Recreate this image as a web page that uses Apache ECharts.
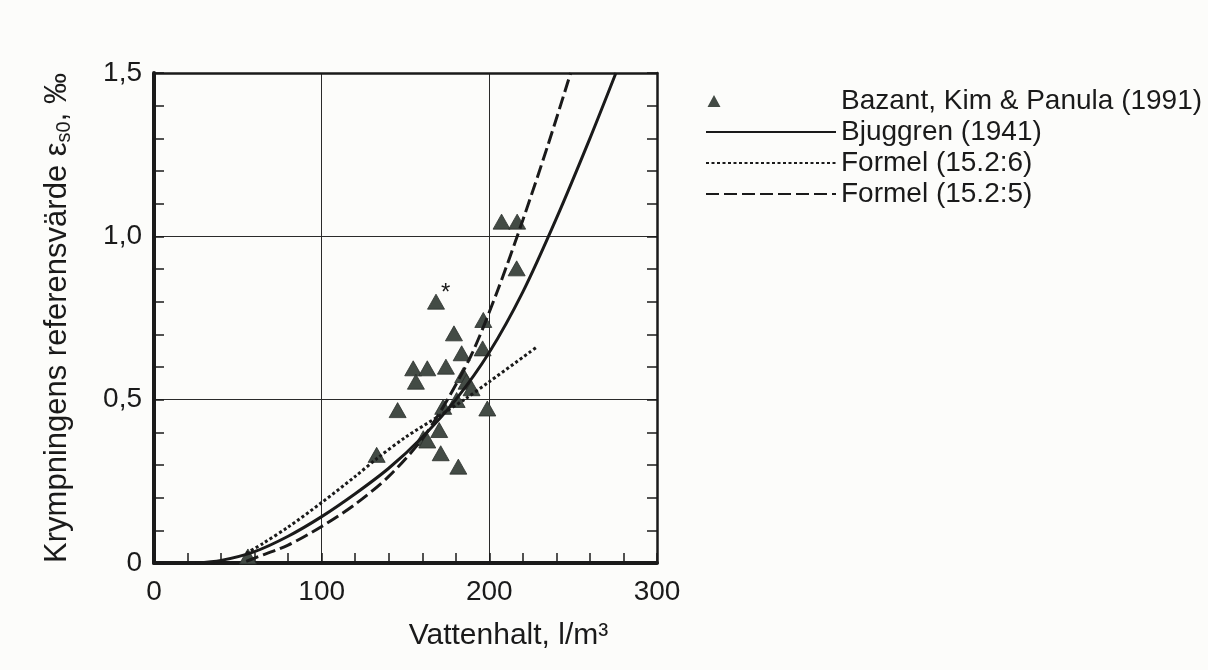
<!DOCTYPE html>
<html>
<head>
<meta charset="utf-8">
<script src="https://cdn.jsdelivr.net/npm/echarts@6/dist/echarts.min.js"></script>
<style>
html,body{margin:0;padding:0;background:#fcfcfa;}
#chart{width:1208px;height:670px;}
</style>
</head>
<body>
<div id="chart"></div>
<script>
// ---- data ----
const xTicks = [0, 100, 200, 300];
const yTicks = [0, 0.5, 1.0, 1.5];

const bazantX = [56, 132.8, 145.3, 154.6, 156.2, 160.6, 163, 163, 168.2, 170.1, 171, 172.5, 174.1, 178.9, 180.5, 181.5, 183.5, 184.4, 186.4, 189.4, 196, 196.4, 198.8, 207.3, 216.6, 216.3];
const bazantY = [0.02, 0.331, 0.468, 0.596, 0.555, 0.382, 0.375, 0.596, 0.80, 0.407, 0.336, 0.478, 0.601, 0.703, 0.499, 0.295, 0.642, 0.575, 0.555, 0.535, 0.657, 0.744, 0.473, 1.045, 1.045, 0.902];
const asteriskIndex = 8;

const bjuggrenX = [25, 40, 60, 80, 100, 120, 140, 160, 180, 200, 220, 240, 260, 275.5];
const bjuggrenY = [0, 0.008, 0.035, 0.082, 0.142, 0.212, 0.29, 0.385, 0.5, 0.645, 0.83, 1.055, 1.3, 1.5];

const formel6X = [55, 65, 80, 100, 120, 133, 150, 170, 185, 200, 228];
const formel6Y = [0.03, 0.06, 0.11, 0.185, 0.265, 0.32, 0.385, 0.45, 0.5, 0.555, 0.66];

const formel5X = [55, 60, 80, 100, 120, 140, 160, 175, 190, 205, 220, 235, 248.5];
const formel5Y = [0.005, 0.015, 0.055, 0.112, 0.18, 0.265, 0.38, 0.5, 0.645, 0.835, 1.05, 1.28, 1.5];

const names = ['Bazant, Kim & Panula (1991)', 'Bjuggren (1941)', 'Formel (15.2:6)', 'Formel (15.2:5)'];

// ---- chart ----
const FONT = 'Liberation Sans, Arial, sans-serif';
const INK = '#1a1a1a';
const pair = (xs, ys) => xs.map((x, i) => [x, ys[i]]);

const bazantData = bazantX.map((x, i) => i === asteriskIndex
  ? { value: [x, bazantY[i]], label: { show: true, formatter: '*', position: [14, -12], fontSize: 24, color: INK, fontFamily: FONT } }
  : [x, bazantY[i]]);

const yFmt = v => v === 0 ? '0' : v.toFixed(1).replace('.', ',');
const hiddenDot = { opacity: 0, borderWidth: 0 };

const chart = echarts.init(document.getElementById('chart'), null, { renderer: 'canvas' });
chart.setOption({
  backgroundColor: '#fcfcfa',
  animation: false,
  grid: { left: 154, right: 551, top: 73, bottom: 107, containLabel: false },
  legend: {
    orient: 'vertical', left: 700, top: 82,
    itemWidth: 130, itemHeight: 12, itemGap: 3,
    textStyle: { fontSize: 28, lineHeight: 27, color: INK, fontFamily: FONT },
    data: [
      { name: names[0], icon: 'path://M3,12 L9.5,0 L16,12 Z M129.99,12 L130,12 L130,11.99 Z', itemStyle: { borderWidth: 0 } },
      { name: names[1], itemStyle: hiddenDot },
      { name: names[2], itemStyle: hiddenDot },
      { name: names[3], itemStyle: hiddenDot }
    ]
  },
  xAxis: [{
    type: 'value', position: 'bottom', min: xTicks[0], max: xTicks[xTicks.length - 1], interval: 100,
    name: 'Vattenhalt, l/m³', nameLocation: 'middle', nameGap: 58,
    nameTextStyle: { fontSize: 30, color: INK, fontFamily: FONT, padding: [0, 0, 0, 206] },
    axisLine: { show: true, onZero: false, lineStyle: { color: INK, width: 4 } },
    axisTick: { show: true, inside: true, length: 10, lineStyle: { color: INK, width: 1.5 } },
    minorTick: { show: true, splitNumber: 5, length: 10, lineStyle: { color: INK, width: 1.5 } },
    splitLine: { show: true, lineStyle: { color: '#2a2a2a', width: 1 } },
    axisLabel: { fontSize: 28, color: INK, fontFamily: FONT, margin: 15 }
  }, {
    type: 'value', position: 'top', min: 0, max: 300, interval: 100,
    axisLine: { show: true, onZero: false, lineStyle: { color: INK, width: 2.5 } },
    axisTick: { show: false }, axisLabel: { show: false }, splitLine: { show: false }
  }],
  yAxis: [{
    type: 'value', position: 'left', min: yTicks[0], max: yTicks[yTicks.length - 1], interval: 0.5,
    name: '{a|Krympningens referensvärde ε}{sub|s0}{a|, ‰}', nameLocation: 'middle', nameGap: 80, nameRotate: 90,
    nameTextStyle: {
      color: INK, fontFamily: FONT,
      rich: {
        a: { fontSize: 31, color: INK, fontFamily: FONT },
        sub: { fontSize: 20, color: INK, fontFamily: FONT, padding: [14, 0, 0, 0] }
      }
    },
    axisLine: { show: true, onZero: false, lineStyle: { color: INK, width: 4 } },
    axisTick: { show: true, inside: true, length: 10, lineStyle: { color: INK, width: 1.5 } },
    minorTick: { show: true, splitNumber: 5, length: 10, lineStyle: { color: INK, width: 1.5 } },
    splitLine: { show: true, lineStyle: { color: '#2a2a2a', width: 1 } },
    axisLabel: { fontSize: 28, color: INK, fontFamily: FONT, margin: 12, formatter: yFmt }
  }, {
    type: 'value', position: 'right', min: 0, max: 1.5, interval: 0.5,
    axisLine: { show: true, onZero: false, lineStyle: { color: INK, width: 2.5 } },
    axisTick: { show: true, inside: true, length: 10, lineStyle: { color: INK, width: 1.5 } },
    minorTick: { show: true, splitNumber: 5, length: 10, lineStyle: { color: INK, width: 1.5 } },
    axisLabel: { show: false }, splitLine: { show: false }
  }],
  series: [{
    name: names[0], type: 'scatter', xAxisIndex: 0, yAxisIndex: 0,
    symbol: 'triangle', symbolSize: [17, 15],
    itemStyle: { color: '#434b45', borderColor: '#2a302c', borderWidth: 0.8, opacity: 1 },
    data: bazantData, z: 3
  }, {
    name: names[1], type: 'line', xAxisIndex: 0, yAxisIndex: 0,
    showSymbol: false, symbol: 'none', smooth: 0.3,
    lineStyle: { color: INK, width: 3, type: 'solid' }, itemStyle: { color: INK },
    data: pair(bjuggrenX, bjuggrenY), z: 4
  }, {
    name: names[2], type: 'line', xAxisIndex: 0, yAxisIndex: 0,
    showSymbol: false, symbol: 'none', smooth: 0.3,
    lineStyle: { color: INK, width: 3, type: [3, 2.5] }, itemStyle: { color: INK },
    data: pair(formel6X, formel6Y), z: 4
  }, {
    name: names[3], type: 'line', xAxisIndex: 0, yAxisIndex: 0,
    showSymbol: false, symbol: 'none', smooth: 0.3,
    lineStyle: { color: INK, width: 3, type: [13, 5] }, itemStyle: { color: INK },
    data: pair(formel5X, formel5Y), z: 4
  }]
});
</script>
</body>
</html>
